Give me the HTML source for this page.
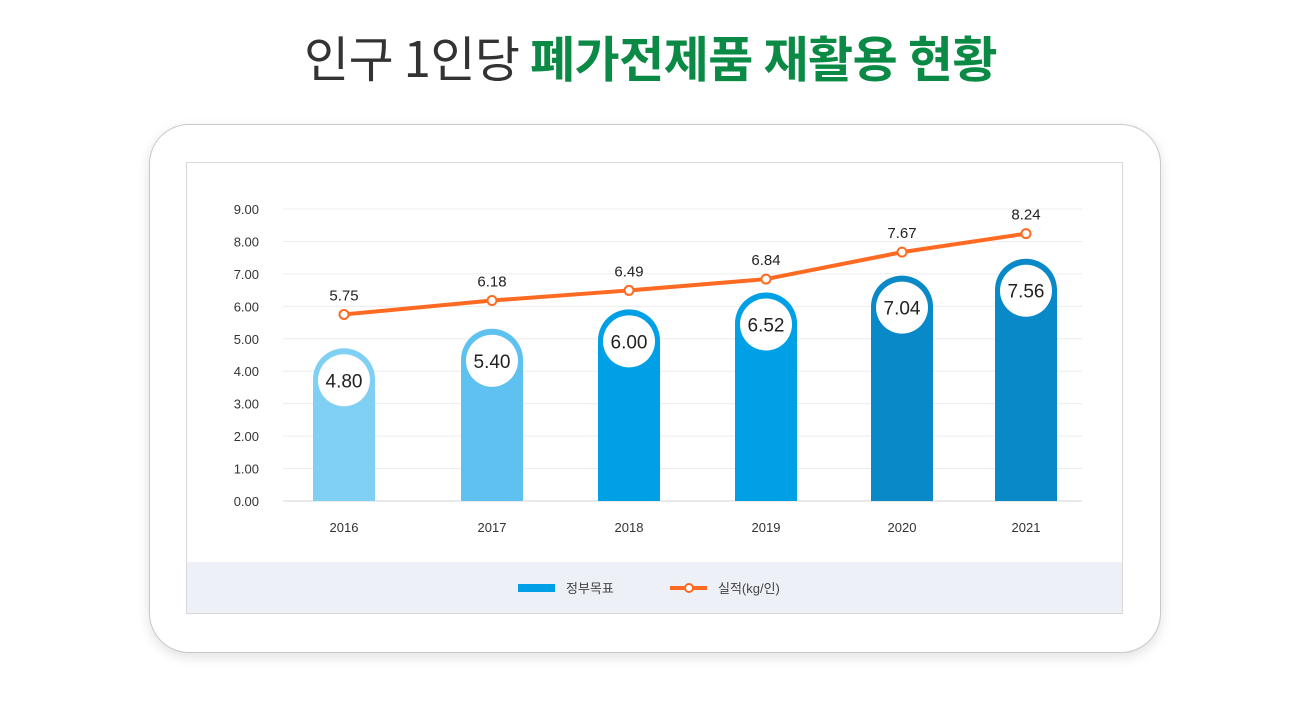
<!DOCTYPE html>
<html><head><meta charset="utf-8"><style>
body{margin:0;width:1301px;height:722px;background:#fff;overflow:hidden;font-family:"Liberation Sans","Noto Sans CJK KR",sans-serif;}
#title{position:absolute;left:0;width:1301px;top:24px;text-align:center;font-size:49px;color:#333;font-family:"Noto Sans CJK KR",sans-serif;letter-spacing:-0.5px;line-height:66px}
#title b{color:#0b8a45;font-weight:700}
#card{position:absolute;left:149px;top:124px;width:1010px;height:527px;border:1px solid #c8c8c8;border-radius:40px;box-shadow:0 4px 12px rgba(0,0,0,0.12);background:#fff}
#panel{position:absolute;left:186px;top:162px;width:935px;height:450px;border:1px solid #d8d8d8;background:#fff}
#legend{position:absolute;left:0;top:399px;width:935px;height:51px;background:#edf1f7}
</style></head><body>
<div id="title">인구 1인당 <b>폐가전제품 재활용 현황</b></div>
<div id="card"></div>
<div id="panel"><div id="legend"></div></div>
<svg id="chart" width="1301" height="722" style="position:absolute;left:0;top:0"></svg>
<script>
const years=["2016","2017","2018","2019","2020","2021"];
const targets=[4.80,5.40,6.00,6.52,7.04,7.56];
const actuals=[5.75,6.18,6.49,6.84,7.67,8.24];
const yTicks=[0,1,2,3,4,5,6,7,8,9];
const barColors=["#80d0f3","#5ec1f0","#00a0e6","#00a0e6","#0a89c8","#0a89c8"];
const xPos=[344,492,629,766,902,1026];
const NS="http://www.w3.org/2000/svg";
const svg=document.getElementById('chart');
function y(v){return 501-v*(292/9);}
function x(i){return xPos[i];}
function el(t,a,txt){const e=document.createElementNS(NS,t);for(const k in a)e.setAttribute(k,a[k]);if(txt!==undefined)e.textContent=txt;svg.appendChild(e);return e;}
yTicks.forEach(t=>{
 const g=el('line',{x1:283,x2:1082,y1:y(t),y2:y(t),stroke:t===0?'#d6d6d6':'#ececec','stroke-width':1});
 
 
 const l=el('text',{x:259,y:y(t)+5,'text-anchor':'end','font-size':13,fill:'#333'},t.toFixed(2));
 
 
});
years.forEach((yr,i)=>{
 const l=el('text',{x:x(i),y:532,'text-anchor':'middle','font-size':13,fill:'#333'},yr);
 
 
});
targets.forEach((v,i)=>{
 const w=62,r=31,cx=x(i),top=y(v)+3,bot=y(0);
 const p=el('path',{d:`M${cx-w/2},${bot} L${cx-w/2},${top+r} A${r},${r} 0 0 1 ${cx+w/2},${top+r} L${cx+w/2},${bot} Z`,fill:barColors[i]});
 
 
 const c=el('circle',{cx:cx,cy:top+r+1,r:26,fill:'#fff'});
 
 
 const t=el('text',{x:cx,y:top+r+8,'text-anchor':'middle','font-size':19,fill:'#222'},v.toFixed(2));
 
 
});
const pts=actuals.map((v,i)=>x(i)+','+y(v)).join(' ');
const pl=el('polyline',{points:pts,fill:'none',stroke:'#fe6a22','stroke-width':4,'stroke-linejoin':'round'});


actuals.forEach((v,i)=>{
 const c=el('circle',{cx:x(i),cy:y(v),r:4.5,fill:'#fff',stroke:'#fe6a22','stroke-width':2});
 
 
 const t=el('text',{x:x(i),y:y(v)-14,'text-anchor':'middle','font-size':15,fill:'#222'},v.toFixed(2));
 
 
});
const lb=el('rect',{x:518,y:584,width:37,height:8,fill:'#00a0e6'});


const lt=el('text',{x:566,y:593,'font-size':13,fill:'#444'},'정부목표');


const ll=el('line',{x1:670,x2:707,y1:588,y2:588,stroke:'#fe6a22','stroke-width':4});


const lc=el('circle',{cx:689,cy:588,r:4,fill:'#fff',stroke:'#fe6a22','stroke-width':2});


const la=el('text',{x:718,y:593,'font-size':13,fill:'#444'},'실적(kg/인)');


</script>
</body></html>
